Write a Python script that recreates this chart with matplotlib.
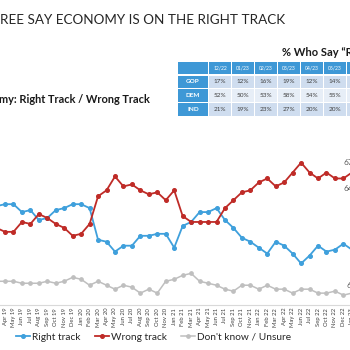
import matplotlib
matplotlib.use('Agg')
import matplotlib.pyplot as plt
from matplotlib.patches import Rectangle
from matplotlib.lines import Line2D

plt.rcParams['font.family'] = ['Lato', 'DejaVu Sans']

# ---------------- data ----------------
months = ['Mar 19', 'Apr 19', 'May 19', 'Jun 19', 'Jul 19', 'Aug 19', 'Sep 19', 'Oct 19',
          'Nov 19', 'Dec 19', 'Jan 20', 'Feb 20', 'Mar 20', 'Apr 20', 'May 20', 'Jun 20',
          'Jul 20', 'Aug 20', 'Sep 20', 'Oct 20', 'Nov 20', 'Jan 21', 'Feb 21', 'Mar 21',
          'Apr 21', 'May 21', 'Jun 21', 'Jul 21', 'Sep 21', 'Oct 21', 'Nov 21', 'Jan 22',
          'Feb 22', 'Mar 22', 'Apr 22', 'May 22', 'Jun 22', 'Jul 22', 'Sep 22', 'Oct 22',
          'Nov 22', 'Dec 22', 'Jan 23']
right_track = [50, 51, 51, 47, 48, 43, 44, 48, 49, 51, 51, 49, 33, 32, 27, 30, 30, 35, 35, 36,
               36, 29, 40, 42, 47, 47, 49, 43, 39, 34, 32, 29, 26, 32, 30, 26, 21, 25, 30, 27,
               28, 31, 28]
wrong_track = [39, 37, 37, 42, 41, 46, 44, 41, 39, 35, 36, 41, 55, 58, 65, 60, 61, 58, 56, 57,
               53, 58, 45, 42, 42, 42, 42, 49, 53, 57, 58, 62, 64, 60, 62, 67, 72, 67, 64, 67,
               64, 64, 67]
dont_know = [12, 12, 12, 11, 11, 11, 12, 11, 12, 14, 13, 10, 12, 10, 8, 10, 9, 6, 8, 6,
             12, 13, 15, 16, 12, 11, 10, 8, 7, 10, 10, 8, 10, 8, 8, 6, 8, 8, 6, 6,
             7, 5, 6]
series_names = ['Right track', 'Wrong track', "Don't know / Unsure"]

table_cols = ['12/22', '01/23', '02/23', '03/23', '04/23', '05/23', '06/23']
table_rows = ['GOP', 'DEM', 'IND']
gop_vals = ['17%', '12%', '16%', '19%', '12%', '14%', '']
dem_vals = ['52%', '50%', '53%', '58%', '54%', '55%', '']
ind_vals = ['21%', '19%', '23%', '27%', '20%', '20%', '']

title_text = 'REE SAY ECONOMY IS ON THE RIGHT TRACK'
subtitle_text = 'my: Right Track / Wrong Track'
table_title = '% Who Say \u201cRight Track\u201d'

# ---------------- figure ----------------
W, H = 350, 350
fig = plt.figure(figsize=(3.5, 3.5), dpi=100)
fig.patch.set_facecolor('white')

def fx(x):
    return x / W

def fy(y):
    return 1 - y / H

BLUE = '#3FA0DC'
RED = '#BF2B27'
GREY = '#BFBFBF'

# axes spans beyond the figure (the slide is cropped)
x0_px, step_px = 5.0, 8.46          # pixel x of 'Apr 19' and month spacing
xmin, xmax = -0.5, len(months) - 0.5
left_px = x0_px + (xmin - 1) * step_px
right_px = x0_px + (xmax - 1) * step_px
base_px, top_px = 305.0, 107.3
ax = fig.add_axes([fx(left_px), fy(base_px), (right_px - left_px) / W, (base_px - top_px) / H])
ax.set_xlim(xmin, xmax)
ax.set_ylim(0, 100)

xs = list(range(len(months)))
h1, = ax.plot(xs, right_track, color=BLUE, lw=1.3, marker='o', ms=2.6, label=series_names[0])
h2, = ax.plot(xs, wrong_track, color=RED, lw=1.3, marker='o', ms=2.6, label=series_names[1])
h3, = ax.plot(xs, dont_know, color=GREY, lw=1.1, marker='o', ms=2.4, label=series_names[2])

for s in ['left', 'top', 'right']:
    ax.spines[s].set_visible(False)
ax.spines['bottom'].set_color('#D9D9D9')
ax.spines['bottom'].set_linewidth(0.8)
ax.set_yticks([])
ax.set_xticks(xs)
ax.set_xticklabels(months, rotation=90, fontsize=4.2, color='#404040')
ax.tick_params(axis='x', length=0, pad=2)

# end data labels (cropped at the slide edge)
last = len(months) - 1
ax.annotate(f'{wrong_track[last]}%', (last, wrong_track[last]), xytext=(0, 4.5),
            textcoords='offset points', ha='center', va='bottom', fontsize=6, color='#595959',
            annotation_clip=False)
ax.annotate(f'{wrong_track[last - 1]}%', (last, wrong_track[last]), xytext=(0, -9),
            textcoords='offset points', ha='center', va='top', fontsize=6, color='#595959',
            annotation_clip=False)
ax.annotate(f'{dont_know[last]}%', (last, dont_know[last]), xytext=(0, 3),
            textcoords='offset points', ha='center', va='bottom', fontsize=6, color='#595959',
            annotation_clip=False)

# legend
ax.legend(handles=[h1, h2, h3], loc='center left', bbox_to_anchor=(fx(16), fy(337)),
          bbox_transform=fig.transFigure, ncol=3, frameon=False, fontsize=7.3,
          handlelength=1.35, handletextpad=0.2, columnspacing=1.45, borderpad=0,
          borderaxespad=0, labelcolor='#262626')

# titles
def fit_text(t, target_w):
    fig.canvas.draw()
    bb = t.get_window_extent(renderer=fig.canvas.get_renderer())
    t.set_fontsize(t.get_fontsize() * target_w / bb.width)

t1 = fig.text(fx(0.5), fy(20), title_text, fontsize=11, color='#262626', ha='left', va='center')
fit_text(t1, 284)
t2 = fig.text(fx(-1), fy(99), subtitle_text, fontsize=8, color='#1a1a1a', fontweight='bold',
              ha='left', va='center')
fit_text(t2, 151)
fig.text(fx(282), fy(52), table_title, fontsize=8, color='#1a1a1a', fontweight='bold',
         ha='left', va='center')

# table
def rect_px(x, y, w, h, color):
    fig.add_artist(Rectangle((fx(x), fy(y + h)), w / W, h / H, transform=fig.transFigure,
                             facecolor=color, edgecolor='none'))

TBL_BLUE = '#3E98D6'
ROW_DARK = '#CFDDEF'
ROW_LIGHT = '#E7EEF7'
lab_x, lab_w = 178, 30
col_x0, col_w, col_gap = 209, 22, 1
row_tops = [61.5, 75.5, 89.5, 103]
row_h = 12.5
rows_data = [gop_vals, dem_vals, ind_vals]

rect_px(lab_x, row_tops[0], lab_w, row_h, TBL_BLUE)
for j, c in enumerate(table_cols):
    cx = col_x0 + j * (col_w + col_gap)
    rect_px(cx, row_tops[0], col_w, row_h, TBL_BLUE)
    fig.text(fx(cx + col_w / 2), fy(row_tops[0] + row_h / 2), c, fontsize=3.6,
             color='white', ha='center', va='center')
for i, (rname, vals) in enumerate(zip(table_rows, rows_data)):
    top = row_tops[i + 1]
    rect_px(lab_x, top, lab_w, row_h, TBL_BLUE)
    fig.text(fx(lab_x + lab_w / 2), fy(top + row_h / 2), rname, fontsize=4.6, color='white',
             fontweight='bold', ha='center', va='center')
    bg = ROW_LIGHT if i == 1 else ROW_DARK
    for j, v in enumerate(vals):
        cx = col_x0 + j * (col_w + col_gap)
        rect_px(cx, top, col_w, row_h, bg)
        fig.text(fx(cx + col_w / 2), fy(top + row_h / 2), v, fontsize=4.6, color='#404040',
                 ha='center', va='center')

fig.savefig('out.png', dpi=100)
